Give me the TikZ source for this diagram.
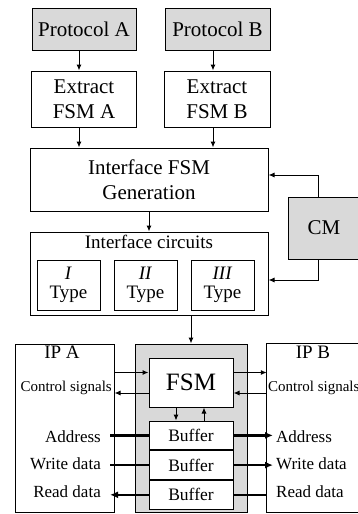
\documentclass[tikz,border=0pt]{standalone}
\usepackage{fontspec}
\setmainfont{Liberation Serif}
\usepackage{xcolor}
\usetikzlibrary{arrows.meta,positioning}
\definecolor{DotGray}{HTML}{D9D9D9}
\newcommand{\fsz}[2]{\fontsize{#1}{#2}\selectfont}

\begin{document}
\begin{tikzpicture}[
  x=1pt,y=-1pt,
  box/.style={draw,line width=1pt,fill=white,align=center,inner sep=0pt,font=\fsz{21}{25}},
  shaded/.style={box,fill=DotGray},
  arrow/.style={-{Latex[length=6pt,width=5pt]},line width=1pt},
  bus/.style={line width=2.6pt},
  busarrow/.style={bus,-{Latex[length=8pt,width=7pt]}},
  title/.style={inner sep=0pt,font=\fsz{19}{19}},
  sigl/.style={anchor=east,inner ysep=0pt,inner xsep=9pt,font=\fsz{17}{17}},
  sigr/.style={anchor=west,inner ysep=0pt,inner xsep=3pt,font=\fsz{17}{17}}
]
\useasboundingbox (0,0) rectangle (358,514);

% protocols and their state machines
\node[shaded,minimum width=104pt,minimum height=42pt] (protA) at (84,29) {Protocol A};
\node[shaded,minimum width=105pt,minimum height=42pt] (protB) at (217.5,29) {Protocol B};
\node[box,minimum width=105pt,minimum height=56pt] (extA) at (84,99) {Extract\\FSM A};
\node[box,minimum width=106pt,minimum height=56pt] (extB) at (217,99) {Extract\\FSM B};
\node[box,minimum width=238pt,minimum height=63pt] (gen) at (149,179.5) {Interface FSM\\Generation};
\node[shaded,minimum width=72pt,minimum height=62pt] (cm) at (324,228) {CM};

% interface circuits
\node[box,minimum width=238pt,minimum height=83pt] (circ) at (149,273.5) {};
\node[title,below=3pt of circ.north] (circT) {Interface circuits};
\node[box,minimum width=63pt,minimum height=50pt,font=\fsz{19}{19}] (typeI) at (68.5,285) {\textit{I}\\Type};
\node[box,minimum width=63pt,minimum height=50pt,font=\fsz{19}{19}] (typeII) at (145.5,285) {\textit{II}\\Type};
\node[box,minimum width=63pt,minimum height=50pt,font=\fsz{19}{19}] (typeIII) at (222.5,285) {\textit{III}\\Type};

% generated interface between the two IPs
\node[box,minimum width=99pt,minimum height=168pt] (ipA) at (64.5,428) {};
\node[shaded,minimum width=112pt,minimum height=168pt] (core) at (191,428) {};
\node[minimum width=93pt,minimum height=168pt,inner sep=0pt] (ipB) at (313.5,428) {};
\draw[line width=1pt] (ipB.north east) -- (ipB.north west) -- (ipB.south west) -- (ipB.south east);
\node[box,minimum width=84pt,minimum height=49pt,font=\fsz{25}{25}] (fsm) at (191,382.5) {FSM};
\node[box,minimum width=84pt,minimum height=28.7pt,font=\fsz{17.5}{17.5}] (buf1) at (191,435.4) {Buffer};
\node[box,minimum width=84pt,minimum height=28.7pt,font=\fsz{17.5}{17.5},below=0pt of buf1] (buf2) {Buffer};
\node[box,minimum width=84pt,minimum height=28.7pt,font=\fsz{17.5}{17.5},below=0pt of buf2] (buf3) {Buffer};

\node[title] (ipAT) at (62,352) {IP A};
\node[anchor=east,inner sep=1pt,font=\fsz{15}{15}] (ctlA) at (113,388) {Control signals};
\node[sigl] (addrA) at (110,437) {Address};
\node[sigl] (wrA) at (110,464) {Write data};
\node[sigl] (rdA) at (110,492) {Read data};

\node[title] (ipBT) at (313,352) {IP B};
\node[anchor=west,inner sep=1pt,font=\fsz{15}{15}] (ctlB) at (267,388) {Control signals};
\node[sigr] (addrB) at (273,437) {Address};
\node[sigr] (wrB) at (273,464) {Write data};
\node[sigr] (rdB) at (273,492) {Read data};

% flow arrows
\coordinate (colA) at ([xshift=-5pt]protA.south);
\coordinate (colB) at ([xshift=-4.5pt]protB.south);
\draw[arrow] (colA) -- (colA |- extA.north);
\draw[arrow] (colB) -- (colB |- extB.north);
\draw[arrow] (colA |- extA.south) -- (colA |- gen.north);
\draw[arrow] (colB |- extB.south) -- (colB |- gen.north);
\draw[arrow] (gen.south) -- (circ.north);
\draw[arrow] ([xshift=-6pt]cm.north) |- ([yshift=4.5pt]gen.east);
\draw[arrow] ([xshift=-6pt]cm.south) |- ([yshift=-6.5pt]circ.east);
\draw[arrow] (circ.south -| core.north) -- (core.north);

% control signals
\coordinate (cUp) at ([yshift=10pt]fsm.west);
\coordinate (cDn) at ([yshift=-10.5pt]fsm.west);
\coordinate (dUp) at ([yshift=10pt]fsm.east);
\coordinate (dDn) at ([yshift=-10.5pt]fsm.east);
\draw[arrow] (cUp -| ipA.east) -- (cUp);
\draw[arrow] (cDn) -- (cDn -| ipA.east);
\draw[arrow] (dUp) -- (dUp -| ipB.west);
\draw[arrow] (dDn -| ipB.west) -- (dDn);
\draw[arrow] ([xshift=-15pt]fsm.south) -- ([xshift=-15pt]buf1.north);
\draw[arrow] ([xshift=13pt]buf1.north) -- ([xshift=13pt]fsm.south);

% data buses
\draw[bus] (buf1.west -| addrA.east) -- (buf1.west);
\draw[busarrow] (buf1.east) -- (buf1.east -| addrB.west);
\draw[bus] (buf2.west -| wrA.east) -- (buf2.west);
\draw[busarrow] (buf2.east) -- (buf2.east -| wrB.west);
\draw[busarrow] (buf3.west) -- (buf3.west -| rdA.east);
\draw[bus] (buf3.east -| ipB.west) -- (buf3.east);
\end{tikzpicture}
\end{document}
